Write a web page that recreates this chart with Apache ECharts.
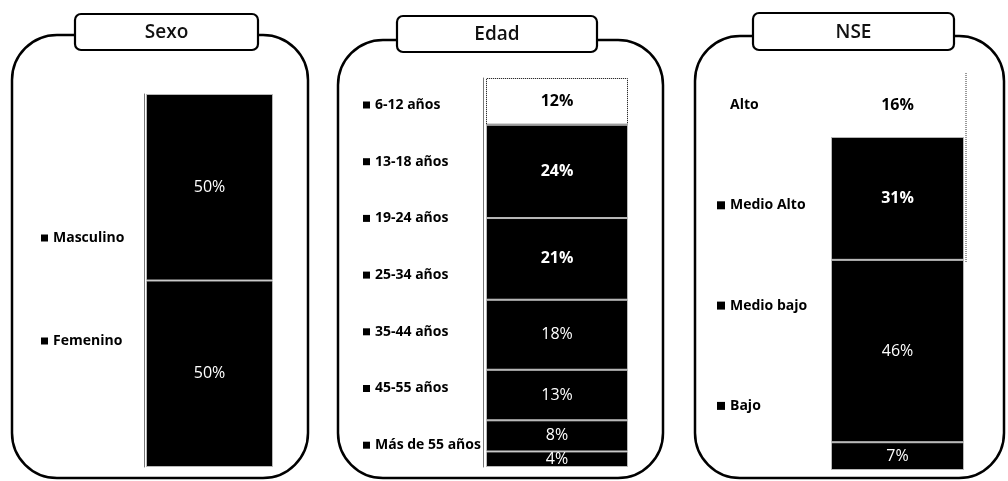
<!DOCTYPE html>
<html>
<head>
<meta charset="utf-8">
<script src="https://cdn.jsdelivr.net/npm/echarts@6/dist/echarts.min.js"></script>
<style>
html,body{margin:0;padding:0;background:#fff;}
#c{width:1008px;height:481px;}
</style>
</head>
<body>
<div id="c"></div>
<script>
const titles = ['Sexo', 'Edad', 'NSE'];
const sexoCats = ['Masculino', 'Femenino'];
const sexoVals = [50, 50];
const edadCats = ['6-12 años', '13-18 años', '19-24 años', '25-34 años', '35-44 años', '45-55 años', 'Más de 55 años'];
const edadVals = [12, 24, 21, 18, 13, 8, 4];
const nseCats = ['Alto', 'Medio Alto', 'Medio bajo', 'Bajo'];
const nseVals = [16, 31, 46, 7];

const FONT = '"Open Sans", "Liberation Sans", sans-serif';

const chart = echarts.init(document.getElementById('c'), null, {renderer: 'canvas'});

// layout per panel
const grids = [
  {left: 144, top: 94, width: 131, height: 373},
  {left: 483, top: 78, width: 148, height: 389},
  {left: 831, top: 73.5, width: 133, height: 396.5}
];
const barWidths = [127, 142, 133];

function buildSeries(cats, vals, gi, whiteFirst, dottedFirst) {
  const out = [];
  // stack bottom-up: last category at bottom
  for (let i = cats.length - 1; i >= 0; i--) {
    const isWhite = whiteFirst && i === 0;
    out.push({
      type: 'bar',
      name: cats[i],
      stack: 's' + gi,
      xAxisIndex: gi,
      yAxisIndex: gi,
      barWidth: barWidths[gi],
      data: [vals[i]],
      itemStyle: isWhite ? {
        color: '#fff',
        borderColor: dottedFirst ? '#000' : '#fff',
        borderWidth: dottedFirst ? 1 : 0,
        borderType: 'dotted'
      } : {color: '#000', borderColor: '#b8b8b8', borderWidth: 1},
      label: {
        show: true,
        position: 'inside',
        formatter: '{c}%',
        color: isWhite ? '#000' : '#fff',
        fontFamily: FONT,
        fontSize: 16,
        fontWeight: (gi === 1 && i <= 2) || (gi === 2 && i <= 1) ? 'bold' : 'normal'
      },
      emphasis: {disabled: true},
      silent: true,
      animation: false
    });
  }
  return out;
}

const series = [].concat(
  buildSeries(sexoCats, sexoVals, 0, false, false),
  buildSeries(edadCats, edadVals, 1, true, true),
  buildSeries(nseCats, nseVals, 2, true, false)
);

const legendText = {fontFamily: FONT, fontWeight: 'bold', fontSize: 14, color: '#000', lineHeight: 14};
function legendData(cats, whiteIdx) {
  return cats.map((c, i) => ({
    name: c,
    itemStyle: {color: i === whiteIdx ? '#fff' : '#000', borderWidth: 0}
  }));
}

const panels = [
  {x: 12, y: 35, w: 296, h: 443},
  {x: 338, y: 40, w: 325, h: 438},
  {x: 695, y: 36, w: 309, h: 442}
];
const tabs = [
  {x: 75, y: 14, w: 183, h: 36},
  {x: 397, y: 16, w: 200, h: 36},
  {x: 753, y: 13, w: 201, h: 37}
];

const graphics = [];
panels.forEach(p => graphics.push({
  type: 'rect', z: 1,
  shape: {x: p.x, y: p.y, width: p.w, height: p.h, r: 45},
  style: {fill: 'transparent', stroke: '#000', lineWidth: 2.5}
}));
tabs.forEach((t, i) => {
  graphics.push({
    type: 'rect', z: 2,
    shape: {x: t.x, y: t.y, width: t.w, height: t.h, r: 6},
    style: {fill: '#fff', stroke: '#000', lineWidth: 2.2}
  });
  graphics.push({
    type: 'text', z: 3,
    x: t.x + t.w / 2, y: t.y + t.h / 2 + 1,
    style: {text: titles[i], fill: '#111', font: '600 19px ' + FONT, textAlign: 'center', textVerticalAlign: 'middle'}
  });
});
// dotted edge on right side of NSE bar top
graphics.push({
  type: 'line', z: 5,
  shape: {x1: 966, y1: 73, x2: 966, y2: 262},
  style: {stroke: '#333', lineWidth: 1, lineDash: [1, 1]}
});

const option = {
  animation: false,
  backgroundColor: '#fff',
  grid: grids.map(g => Object.assign({containLabel: false}, g)),
  xAxis: grids.map((g, i) => ({
    type: 'category', gridIndex: i, data: [''],
    show: false
  })),
  yAxis: grids.map((g, i) => ({
    type: 'value', gridIndex: i, min: 0, max: 100,
    axisLabel: {show: false}, splitLine: {show: false}, axisTick: {show: false},
    axisLine: {show: i !== 2, lineStyle: {color: '#777', width: 1}}
  })),
  legend: [
    {data: legendData(sexoCats, -1), orient: 'vertical', left: 41, top: 231, itemGap: 89,
     icon: 'rect', itemWidth: 7, itemHeight: 7, textStyle: legendText, selectedMode: false, padding: 0},
    {data: legendData(edadCats, -1), orient: 'vertical', left: 363, top: 98, itemGap: 42.7,
     icon: 'rect', itemWidth: 7, itemHeight: 7, textStyle: legendText, selectedMode: false, padding: 0},
    {data: legendData(nseCats, 0), orient: 'vertical', left: 717, top: 98, itemGap: 86.3,
     icon: 'rect', itemWidth: 8, itemHeight: 8, textStyle: legendText, selectedMode: false, padding: 0}
  ],
  graphic: graphics,
  series: series
};
chart.setOption(option);
</script>
</body>
</html>
